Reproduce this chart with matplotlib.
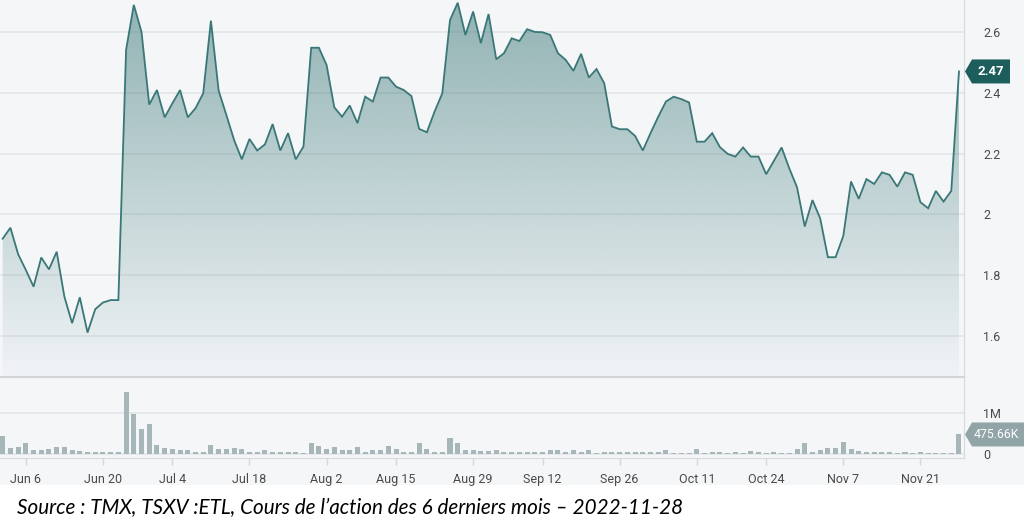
import numpy as np
import pandas as pd
import matplotlib
matplotlib.use("Agg")
import matplotlib.pyplot as plt
from matplotlib.patches import Polygon, Rectangle

# ---------------- data ----------------
holidays = ["2022-07-01", "2022-08-01", "2022-09-05", "2022-10-10"]
dates = pd.bdate_range("2022-06-01", "2022-11-28")
dates = dates[~dates.isin(pd.to_datetime(holidays))]

prices = [1.92, 1.956, 1.869, 1.817, 1.762, 1.858, 1.819, 1.877, 1.729, 1.642,
          1.727, 1.611, 1.688, 1.710, 1.718, 1.718, 2.541, 2.689, 2.600, 2.361,
          2.409, 2.319, 2.365, 2.409, 2.319, 2.349, 2.398, 2.637, 2.407, 2.327,
          2.245, 2.181, 2.248, 2.210, 2.230, 2.297, 2.210, 2.267, 2.181, 2.223,
          2.548, 2.548, 2.491, 2.352, 2.321, 2.358, 2.300, 2.387, 2.371, 2.450,
          2.450, 2.420, 2.409, 2.389, 2.281, 2.270, 2.338, 2.398, 2.639, 2.696,
          2.590, 2.667, 2.563, 2.659, 2.510, 2.530, 2.579, 2.570, 2.609, 2.600,
          2.599, 2.590, 2.530, 2.508, 2.472, 2.528, 2.450, 2.478, 2.431, 2.289,
          2.280, 2.280, 2.258, 2.210, 2.267, 2.321, 2.371, 2.387, 2.379, 2.368,
          2.239, 2.239, 2.267, 2.221, 2.199, 2.190, 2.220, 2.190, 2.190, 2.132,
          2.176, 2.220, 2.151, 2.089, 1.960, 2.047, 1.987, 1.859, 1.859, 1.929,
          2.108, 2.051, 2.116, 2.100, 2.138, 2.130, 2.091, 2.138, 2.130, 2.040,
          2.020, 2.077, 2.042, 2.077, 2.47]

volumes_m = [0.435, 0.137, 0.16, 0.27, 0.10, 0.10, 0.12, 0.18, 0.18, 0.10,
             0.08, 0.04, 0.04, 0.04, 0.04, 0.04, 1.52, 0.98, 0.62, 0.73,
             0.23, 0.14, 0.12, 0.10, 0.10, 0.04, 0.04, 0.22, 0.11, 0.11,
             0.14, 0.12, 0.04, 0.04, 0.09, 0.04, 0.04, 0.04, 0.04, 0.02,
             0.26, 0.20, 0.12, 0.16, 0.10, 0.10, 0.16, 0.04, 0.10, 0.10,
             0.19, 0.11, 0.04, 0.04, 0.26, 0.12, 0.04, 0.04, 0.40, 0.26,
             0.10, 0.10, 0.07, 0.07, 0.10, 0.04, 0.04, 0.04, 0.04, 0.04,
             0.04, 0.10, 0.09, 0.06, 0.10, 0.06, 0.10, 0.03, 0.06, 0.06,
             0.06, 0.06, 0.06, 0.06, 0.06, 0.06, 0.09, 0.03, 0.03, 0.03,
             0.13, 0.03, 0.06, 0.06, 0.03, 0.06, 0.03, 0.08, 0.06, 0.03,
             0.06, 0.03, 0.03, 0.12, 0.27, 0.06, 0.09, 0.14, 0.14, 0.30,
             0.12, 0.07, 0.06, 0.06, 0.06, 0.04, 0.03, 0.06, 0.03, 0.06,
             0.03, 0.03, 0.03, 0.03, 0.476]

tick_dates = ["2022-06-06", "2022-06-20", "2022-07-04", "2022-07-18", "2022-08-02",
              "2022-08-15", "2022-08-29", "2022-09-12", "2022-09-26", "2022-10-11",
              "2022-10-24", "2022-11-07", "2022-11-21"]
tick_labels = ["Jun 6", "Jun 20", "Jul 4", "Jul 18", "Aug 2", "Aug 15", "Aug 29",
               "Sep 12", "Sep 26", "Oct 11", "Oct 24", "Nov 7", "Nov 21"]
price_ticks = [1.6, 1.8, 2.0, 2.2, 2.4, 2.6]
price_tick_labels = ["1.6", "1.8", "2", "2.2", "2.4", "2.6"]
vol_ticks = [0, 1.0]
vol_tick_labels = ["0", "1M"]
last_price_label = "2.47"
last_volume_label = "475.66K"
caption = "Source : TMX, TSXV :ETL, Cours de l\u2019action des 6 derniers mois \u2013 2022-11-28"

assert len(dates) == len(prices) == len(volumes_m)

# ---------------- style ----------------
W, H = 1024, 529
BG = "#f4f6f8"
LINE = "#3a7777"
TEAL = np.array([46, 110, 110]) / 255
GRID = "#e3e6e9"
SPINE = "#d6d9dc"
BAR = "#a7b6b8"
TXT = "#4a4a4a"

x = np.arange(len(prices))
xmin, xmax = -0.35, 124.65
pmin, pmax = 1.465, 2.705
vmin, vmax = -0.098, 1.878

fig = plt.figure(figsize=(W / 100, H / 100), dpi=100, facecolor="white")
fig.patches.append(Rectangle((0, 1 - 485 / H), 1, 485 / H, transform=fig.transFigure,
                             facecolor=BG, edgecolor="none", zorder=-10))

axp = fig.add_axes([0, 1 - 377 / H, 964 / W, 377 / H])
axv = fig.add_axes([0, 1 - 458 / H, 964 / W, 81 / H])
for ax in (axp, axv):
    ax.set_facecolor(BG)
    ax.set_xlim(xmin, xmax)
    for s in ("top", "left"):
        ax.spines[s].set_visible(False)
    ax.spines["right"].set_color(SPINE)
    ax.spines["bottom"].set_color(SPINE)
    ax.yaxis.tick_right()
    ax.tick_params(axis="y", length=0, pad=14, labelsize=9, labelcolor=TXT)

# ---- price panel ----
axp.set_ylim(pmin, pmax)
axp.set_yticks(price_ticks)
axp.set_yticklabels(price_tick_labels, fontfamily="Roboto", ha="left")
axp.set_xticks([])
for t in price_ticks:
    axp.axhline(t, color=GRID, lw=1.2, zorder=0.5)

grad = np.zeros((256, 1, 4))
alpha = np.linspace(0.02, 0.50, 256)
grad[:, 0, :3] = TEAL
grad[:, 0, 3] = alpha
im = axp.imshow(grad, aspect="auto", extent=[xmin, xmax, pmin, pmax], origin="lower",
                zorder=1, interpolation="bilinear")
verts = [(x[0], pmin)] + list(zip(x, prices)) + [(x[-1], pmin)]
clip = Polygon(verts, closed=True, facecolor="none", edgecolor="none", transform=axp.transData)
axp.add_patch(clip)
im.set_clip_path(clip)
axp.plot(x, prices, color=LINE, lw=1.3, zorder=3, solid_joinstyle="miter")

# ---- volume panel ----
axv.set_ylim(vmin, vmax)
axv.set_yticks(vol_ticks)
axv.set_yticklabels(vol_tick_labels, fontfamily="Roboto", ha="left")
for t in vol_ticks:
    axv.axhline(t, color=GRID, lw=1.2, zorder=0.5)
axv.bar(x, volumes_m, width=0.65, color=BAR, zorder=2)
axv.spines["top"].set_visible(True)
axv.spines["top"].set_color("#d2d5d8")
axv.spines["top"].set_linewidth(1.5)
tick_idx = [int(np.where(dates == pd.Timestamp(d))[0][0]) for d in tick_dates]
axv.set_xticks(tick_idx)
axv.set_xticklabels(tick_labels, fontfamily="Roboto", fontsize=9, color=TXT)
axv.tick_params(axis="x", length=5, width=1, color="#d4d7da", pad=6)

# ---- value tags ----
def tag(ax, xv, yv, text, face, bold, wide):
    _, ydisp = ax.transData.transform((xv, yv))
    yf = ydisp / H
    x0 = 965 / W
    xt = 972 / W
    x1 = (1030 if wide else 1010) / W
    h = 12 / H
    poly = Polygon([(x0, yf), (xt, yf + h), (x1, yf + h), (x1, yf - h), (xt, yf - h)],
                   closed=True, transform=fig.transFigure, facecolor=face, edgecolor="none",
                   zorder=5)
    fig.patches.append(poly)
    if wide:
        fig.text(974 / W, yf, text, color="white", fontsize=8.8, fontfamily="Roboto",
                 va="center", ha="left", zorder=6,
                 fontweight="bold" if bold else "normal")
    else:
        fig.text((xt + x1) / 2, yf, text, color="white", fontsize=9.5, fontfamily="Roboto",
                 va="center", ha="center", zorder=6,
                 fontweight="bold" if bold else "normal")

tag(axp, x[-1], prices[-1], last_price_label, "#1d5d5c", True, False)
tag(axv, x[-1], volumes_m[-1], last_volume_label, "#91a4a8", False, True)

fig.text(17 / W, 1 - 508 / H, caption, fontfamily="Lato", style="italic",
         fontsize=14.9, color="black", va="center", ha="left")

fig.savefig("out.png", dpi=100, facecolor="white")
